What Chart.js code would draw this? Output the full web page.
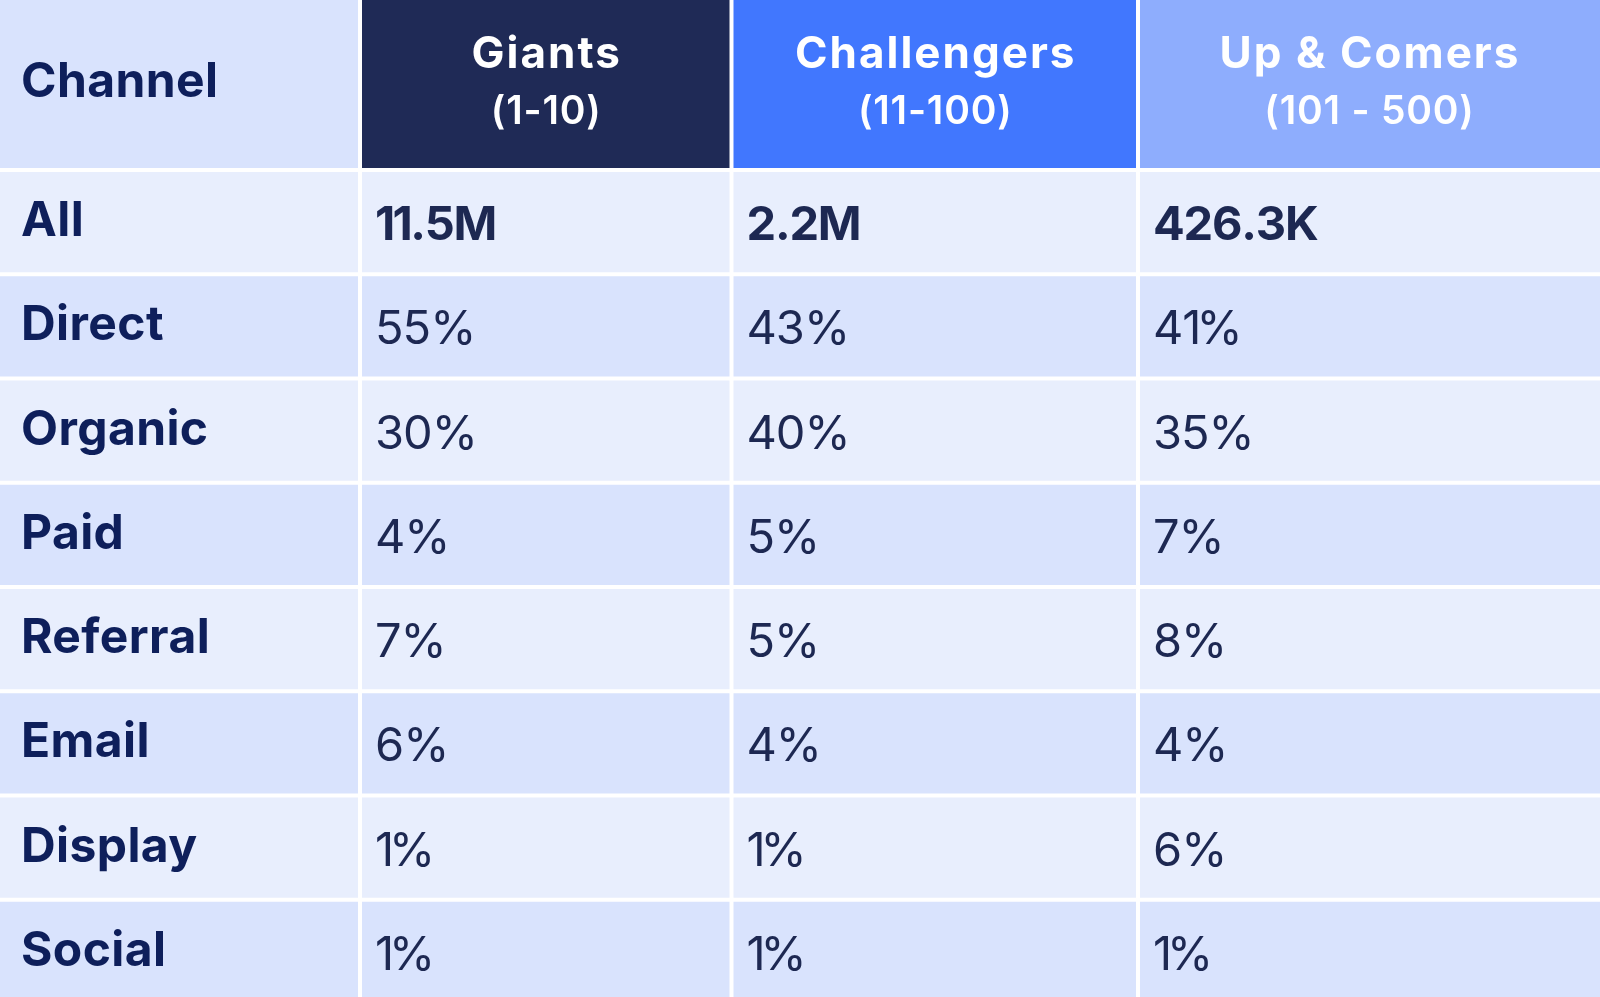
<!DOCTYPE html>
<html>
<head>
<meta charset="utf-8">
<script src="https://cdn.jsdelivr.net/npm/chart.js@4.4.1/dist/chart.umd.min.js"></script>
<style>
html,body{margin:0;padding:0;background:#ffffff;overflow:hidden;width:1600px;height:997px;}
#wrap{position:relative;width:1600px;height:997px;overflow:hidden;background:#ffffff;}
#head{position:absolute;left:0;top:0;}
#body{position:absolute;left:0;top:170px;}
</style>
</head>
<body>
<div id="wrap">
<canvas id="head" width="1600" height="170"></canvas>
<canvas id="body" width="1600" height="834"></canvas>
</div>
<script>
// ---- data ----
const columnTitles = ['Channel', 'Giants', 'Challengers', 'Up & Comers'];
const columnRanges = ['', '(1-10)', '(11-100)', '(101 - 500)'];
const channels = ['All', 'Direct', 'Organic', 'Paid', 'Referral', 'Email', 'Display', 'Social'];
const giants = ['11.5M', '55%', '30%', '4%', '7%', '6%', '1%', '1%'];
const challengers = ['2.2M', '43%', '40%', '5%', '5%', '4%', '1%', '1%'];
const upAndComers = ['426.3K', '41%', '35%', '7%', '8%', '4%', '6%', '1%'];

// ---- layout / style ----
const columnWidths = [360, 371.5, 406.5, 462];
const columnStarts = columnWidths.map((w, i) => columnWidths.slice(0, i).reduce((a, b) => a + b, 0));
const totalWidth = columnWidths.reduce((a, b) => a + b, 0);
const headerColors = ['#d9e3fd', '#1f2a56', '#4177fe', '#8eadfd'];
const rowColors = ['#e8eefd', '#d9e3fd'];
const labelColor = '#0e1f5b';
const valueColor = '#1d2852';
const valueColumns = [giants, challengers, upAndComers];
const FONT = 'Inter, "DejaVu Sans", sans-serif';

function cellBorder(colIndex, top, bottom) {
  return {
    left: colIndex === 0 ? 0 : 2,
    right: colIndex === columnWidths.length - 1 ? 0 : 2,
    top: top,
    bottom: bottom
  };
}

// draws text glyph by glyph with tracking and a narrower advance for "1"
function drawTracked(ctx, str, x, y, spacing, oneAdjust) {
  let cx = x;
  for (const ch of str) {
    ctx.fillText(ch, cx, y);
    cx += ctx.measureText(ch).width + spacing + (ch === '1' ? oneAdjust : 0);
  }
}

function baseOptions() {
  return {
    indexAxis: 'y',
    responsive: false,
    maintainAspectRatio: false,
    animation: false,
    devicePixelRatio: 1,
    layout: { padding: 0 },
    events: [],
    plugins: { legend: { display: false }, tooltip: { enabled: false }, title: { display: false } },
    scales: {
      x: { type: 'linear', stacked: true, min: 0, max: totalWidth, display: false },
      y: { type: 'category', stacked: true, display: false, offset: true }
    }
  };
}

// ---- header chart ----
const headerText = {
  id: 'headerText',
  afterDatasetsDraw(chart) {
    const ctx = chart.ctx, xs = chart.scales.x, ys = chart.scales.y;
    const yc = ys.getPixelForValue(0);
    ctx.save();
    ctx.textBaseline = 'alphabetic';
    ctx.fillStyle = labelColor;
    ctx.textAlign = 'left';
    ctx.font = '700 48px ' + FONT;
    ctx.letterSpacing = '0.4px';
    ctx.fillText(columnTitles[0], xs.getPixelForValue(columnStarts[0]) + 21, yc + 12);
    for (let c = 1; c < columnTitles.length; c++) {
      const cx = (xs.getPixelForValue(columnStarts[c]) + xs.getPixelForValue(columnStarts[c] + columnWidths[c])) / 2;
      ctx.fillStyle = '#ffffff';
      ctx.textAlign = 'center';
      ctx.font = '700 44px ' + FONT;
      ctx.letterSpacing = '2px';
      ctx.fillText(columnTitles[c], cx + 1, yc - 17);
      ctx.font = '600 39px ' + FONT;
      ctx.letterSpacing = '0.8px';
      ctx.fillText(columnRanges[c], cx + 0.5, yc + 39);
    }
    ctx.restore();
  }
};

new Chart(document.getElementById('head'), {
  type: 'bar',
  data: {
    labels: ['header'],
    datasets: columnTitles.map((t, c) => ({
      label: t,
      data: [columnWidths[c]],
      backgroundColor: headerColors[c],
      borderColor: '#ffffff',
      borderWidth: cellBorder(c, 0, 2),
      borderSkipped: false,
      inflateAmount: 0,
      categoryPercentage: 1,
      barPercentage: 1
    }))
  },
  options: baseOptions(),
  plugins: [headerText]
});

// ---- body chart ----
const bodyText = {
  id: 'bodyText',
  afterDatasetsDraw(chart) {
    const ctx = chart.ctx, xs = chart.scales.x, ys = chart.scales.y;
    ctx.save();
    ctx.textBaseline = 'alphabetic';
    ctx.textAlign = 'left';
    channels.forEach((ch, r) => {
      const yc = ys.getPixelForValue(r);
      ctx.fillStyle = labelColor;
      ctx.font = '700 48px ' + FONT;
      ctx.letterSpacing = '0.4px';
      ctx.fillText(ch, xs.getPixelForValue(columnStarts[0]) + 21, yc + 14);
      ctx.letterSpacing = '0px';
      valueColumns.forEach((vals, k) => {
        ctx.fillStyle = valueColor;
        const x0 = xs.getPixelForValue(columnStarts[k + 1]) + 15;
        if (r === 0) {
          ctx.font = '700 47px ' + FONT;
          drawTracked(ctx, vals[r], x0, yc + 18, -1.2, -1.5);
        } else {
          ctx.font = '400 47px ' + FONT;
          drawTracked(ctx, vals[r], x0, yc + 18, -1, -4);
        }
      });
    });
    ctx.restore();
  }
};

new Chart(document.getElementById('body'), {
  type: 'bar',
  data: {
    labels: channels,
    datasets: columnTitles.map((t, c) => ({
      label: t,
      data: channels.map(() => columnWidths[c]),
      backgroundColor: channels.map((_, r) => rowColors[r % 2]),
      borderColor: '#ffffff',
      borderWidth: cellBorder(c, 2, 2),
      borderSkipped: false,
      inflateAmount: 0,
      categoryPercentage: 1,
      barPercentage: 1
    }))
  },
  options: baseOptions(),
  plugins: [bodyText]
});
</script>
</body>
</html>
